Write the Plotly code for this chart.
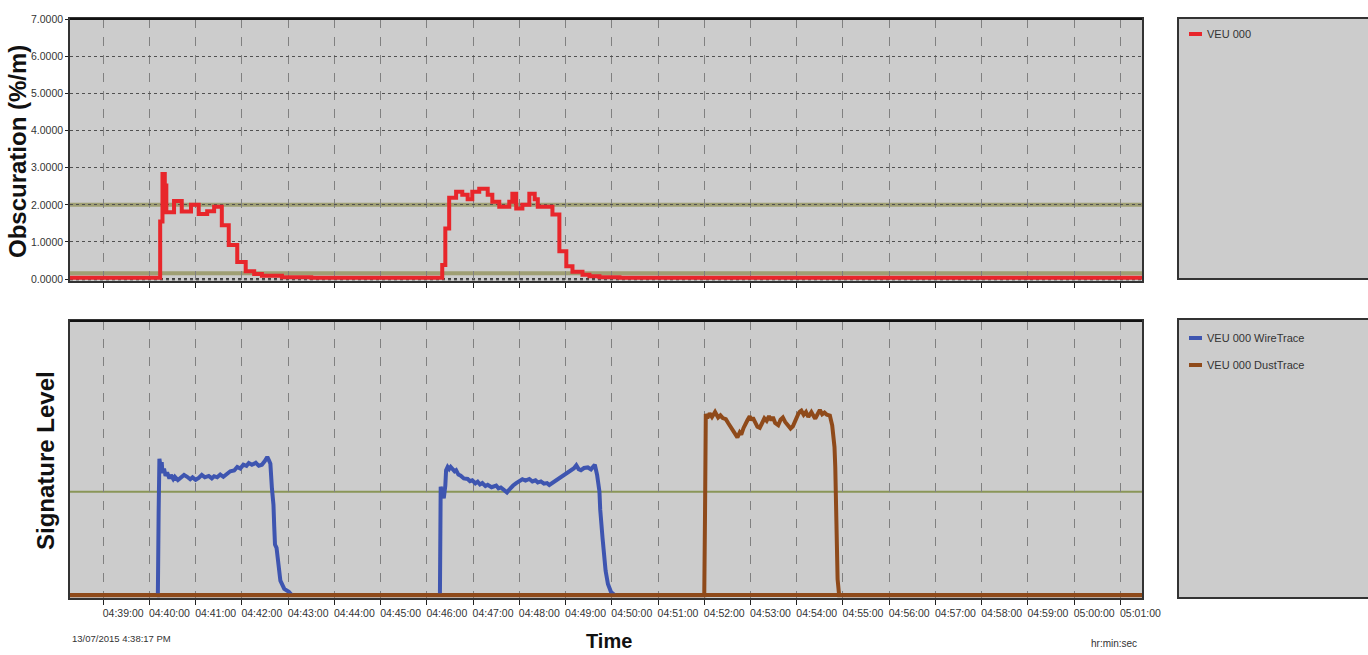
import plotly.graph_objects as go

DATE = "2015-07-13 "
X_START = "04:38:17"
X_END = "05:01:28"

# ---------------- data ----------------
obsc_name = "VEU 000"
obsc_time = ["04:38:17", "04:40:14", "04:40:17", "04:40:20", "04:40:22", "04:40:32", "04:40:42",
             "04:40:54", "04:41:04", "04:41:15", "04:41:24", "04:41:34", "04:41:43", "04:41:54",
             "04:42:05", "04:42:16", "04:42:26", "04:42:52", "04:43:30",
             "04:46:20", "04:46:24", "04:46:29", "04:46:38", "04:46:46", "04:46:53", "04:46:59",
             "04:47:08", "04:47:19", "04:47:25", "04:47:34", "04:47:47", "04:47:51", "04:47:56",
             "04:48:04", "04:48:13", "04:48:20", "04:48:24", "04:48:43", "04:48:52", "04:49:01",
             "04:49:09", "04:49:22", "04:49:31", "04:49:44", "04:50:10", "05:01:28"]
obsc_value = [0.04, 1.55, 2.83, 2.52, 1.80, 2.10, 1.82,
              2.00, 1.75, 1.83, 1.95, 1.45, 0.92, 0.46,
              0.21, 0.14, 0.09, 0.05, 0.04,
              0.38, 1.36, 2.19, 2.35, 2.27, 2.15, 2.35,
              2.43, 2.27, 2.08, 1.95, 2.08, 2.30, 1.90,
              2.00, 2.30, 2.15, 1.95, 1.74, 0.75, 0.35,
              0.20, 0.12, 0.08, 0.05, 0.04, 0.04]

wire_name = "VEU 000 WireTrace"
wire_time = ["04:40:10", "04:40:11", "04:40:12", "04:40:13", "04:40:15", "04:40:16", "04:40:17",
             "04:40:19", "04:40:21", "04:40:23", "04:40:26", "04:40:28", "04:40:31", "04:40:33",
             "04:40:37", "04:40:41", "04:40:45", "04:40:49", "04:40:53", "04:40:56", "04:41:00",
             "04:41:04", "04:41:08", "04:41:12", "04:41:17", "04:41:21", "04:41:24", "04:41:28",
             "04:41:32", "04:41:36", "04:41:41", "04:41:45", "04:41:50", "04:41:54", "04:41:58",
             "04:42:02", "04:42:06", "04:42:09", "04:42:13", "04:42:18", "04:42:22", "04:42:26",
             "04:42:30", "04:42:33", "04:42:35", "04:42:37", "04:42:39", "04:42:41", "04:42:42",
             "04:42:43", "04:42:45", "04:42:47", "04:42:50", "04:42:55", "04:43:01", "04:43:05",
             "04:44:30",
             "04:46:17", "04:46:18", "04:46:20", "04:46:22", "04:46:24", "04:46:25", "04:46:27",
             "04:46:29", "04:46:31", "04:46:33", "04:46:36", "04:46:38", "04:46:41", "04:46:44",
             "04:46:48", "04:46:53", "04:46:56", "04:46:59", "04:47:03", "04:47:06", "04:47:09",
             "04:47:12", "04:47:16", "04:47:19", "04:47:24", "04:47:30", "04:47:33", "04:47:36",
             "04:47:40", "04:47:44", "04:47:47", "04:47:49", "04:47:52", "04:47:56", "04:48:00",
             "04:48:04", "04:48:08", "04:48:13", "04:48:17", "04:48:21", "04:48:24", "04:48:28",
             "04:48:32", "04:48:36", "04:48:39", "04:48:43", "04:48:48", "04:48:52", "04:48:56",
             "04:49:00", "04:49:05", "04:49:08", "04:49:11", "04:49:14", "04:49:17", "04:49:20",
             "04:49:24", "04:49:29", "04:49:33", "04:49:38", "04:49:41", "04:49:44", "04:49:45",
             "04:49:48", "04:49:52", "04:49:55", "04:49:59", "04:50:04"]
wire_value = [0, 0, 30, 49.8, 46.0, 48.5, 44.5,
              46.2, 43.5, 44.8, 42.6, 43.8, 42.4, 43.2,
              42.0, 42.8, 43.9, 43.2, 42.3, 43.0, 42.1,
              42.8, 43.9, 43.0, 43.5, 42.6, 43.4, 43.0,
              44.0, 43.2, 44.3, 45.2, 45.5, 46.8, 46.2,
              47.6, 47.2, 48.2, 47.6, 48.3, 47.2, 47.6,
              49.0, 50.4, 49.3, 48.0, 39.0, 33.0, 25.0,
              18.5, 17.3, 11.3, 5.3, 2.3, 1.3, 0,
              None,
              0, 39.6, 37.5, 35.4, 40.0, 45.6, 46.8,
              46.0, 46.8, 46.0, 45.2, 45.6, 44.0, 43.6,
              42.6, 42.4, 41.6, 41.9, 40.8, 41.4, 40.4,
              40.9, 39.8, 40.3, 39.4, 40.0, 39.0, 39.3,
              38.2, 37.5, 38.5, 39.2, 40.0, 40.9, 41.6,
              42.3, 41.8, 42.4, 41.5, 41.9, 41.1, 41.5,
              40.7, 40.9, 40.2, 41.0, 41.6, 42.6, 43.4,
              44.2, 45.0, 45.6, 46.3, 47.4, 46.0, 45.6,
              46.4, 46.6, 45.9, 47.6, 43.8, 37.8, 31.2,
              20.9, 8.9, 4.1, 1.2, 0]

dust_name = "VEU 000 DustTrace"
dust_time = ["04:38:17", "04:52:00", "04:52:01", "04:52:02", "04:52:04", "04:52:07", "04:52:10",
             "04:52:14", "04:52:18", "04:52:21", "04:52:24", "04:52:28", "04:52:31", "04:52:34",
             "04:52:37", "04:52:40", "04:52:43", "04:52:46", "04:52:48", "04:52:51", "04:52:53",
             "04:52:56", "04:52:59", "04:53:01", "04:53:03", "04:53:06", "04:53:09", "04:53:12",
             "04:53:15", "04:53:18", "04:53:21", "04:53:24", "04:53:27", "04:53:29", "04:53:32",
             "04:53:36", "04:53:39", "04:53:42", "04:53:45", "04:53:49", "04:53:52", "04:53:55",
             "04:53:58", "04:54:02", "04:54:04", "04:54:06", "04:54:09", "04:54:12", "04:54:15",
             "04:54:19", "04:54:22", "04:54:24", "04:54:27", "04:54:30", "04:54:33", "04:54:36",
             "04:54:39", "04:54:43", "04:54:46", "04:54:47", "04:54:49", "04:54:50", "04:54:51",
             "04:54:52", "04:54:53", "04:54:55", "05:01:28"]
dust_value = [0, 0, 30, 66.1, 64.6, 66.3, 65.0,
              66.8, 64.8, 65.6, 64.6, 64.2, 62.8, 61.5,
              59.8, 58.6, 57.6, 59.4, 58.6, 61.0, 62.4,
              63.8, 65.3, 63.8, 64.8, 62.6, 61.4, 61.0,
              62.8, 64.5, 63.6, 65.3, 63.8, 65.0, 62.8,
              62.0, 64.0, 64.8, 63.2, 62.0, 60.8, 61.6,
              64.0, 66.1, 66.9, 67.3, 65.8, 66.8, 65.0,
              66.8, 65.3, 64.4, 66.0, 67.6, 66.0, 66.6,
              65.8, 65.5, 62.0, 59.4, 54.0, 46.8, 37.2,
              21.5, 5.9, 0, 0]

obsc_thresholds = [2.0, 0.16]
signature_threshold = 37.7
obsc_ticks = [0, 1, 2, 3, 4, 5, 6, 7]

assert len(obsc_time) == len(obsc_value)
assert len(wire_time) == len(wire_value)
assert len(dust_time) == len(dust_value)

# ---------------- styling ----------------
RED = "#e8262b"
BLUE = "#3e55b0"
BROWN = "#8f4a1a"
PANEL = "#cccccc"
SANS = "Liberation Sans, Arial, sans-serif"
TXT = "#333333"

W, H = 1368, 655
L, R, T, B = 70, 226, 19, 57
PW, PH = W - L - R, H - T - B


def px_x(px):
    return (px - L) / PW


def px_y(py):
    return (H - B - py) / PH


def ts(lst):
    return [DATE + t for t in lst]


fig = go.Figure()
fig.add_trace(go.Scatter(x=ts(obsc_time), y=obsc_value, name=obsc_name, mode="lines",
                         line=dict(color=RED, width=4, shape="hv"), xaxis="x", yaxis="y",
                         showlegend=False))
fig.add_trace(go.Scatter(x=ts(wire_time), y=wire_value, name=wire_name, mode="lines",
                         line=dict(color=BLUE, width=4), connectgaps=False,
                         xaxis="x2", yaxis="y2", showlegend=False))
fig.add_trace(go.Scatter(x=ts(dust_time), y=dust_value, name=dust_name, mode="lines",
                         line=dict(color=BROWN, width=4), xaxis="x2", yaxis="y2",
                         showlegend=False))

top_dom = [px_y(281), px_y(19)]
bot_dom = [0, px_y(321)]

xcommon = dict(type="date", range=[DATE + X_START, DATE + X_END], dtick=60000,
               tick0=DATE + "04:39:00", tickformat="%H:%M:%S", tickangle=0,
               showgrid=True, gridcolor="#808080", griddash="dash", gridwidth=1,
               showline=True, linecolor="#333333", linewidth=1.5, mirror=True,
               ticks="outside", ticklen=5, tickcolor="#222222",
               tickfont=dict(family=SANS, size=10.5, color=TXT))

fig.update_layout(
    width=W, height=H,
    margin=dict(l=L, r=R, t=T, b=B),
    paper_bgcolor="white", plot_bgcolor=PANEL,
    xaxis=dict(domain=[0, 1], anchor="y", showticklabels=False, zeroline=False, **xcommon),
    yaxis=dict(domain=top_dom, anchor="x", range=[-0.05, 7.0], tickvals=obsc_ticks,
               tickformat=".4f", showgrid=True, gridcolor="#505050", griddash="dot",
               showline=True, linecolor="#333333", linewidth=1.5, mirror=True,
               ticks="outside", ticklen=3, tickcolor="#222222", zeroline=False,
               tickfont=dict(family=SANS, size=10.5, color=TXT)),
    xaxis2=dict(domain=[0, 1], anchor="y2", showticklabels=True, ticklabelshift=20,
                zeroline=False, **xcommon),
    yaxis2=dict(domain=bot_dom, anchor="x2", range=[-1, 100], showticklabels=False,
                showgrid=False, showline=True, linecolor="#333333", linewidth=1.5,
                mirror=True, ticks="", zeroline=True, zerolinecolor=BROWN, zerolinewidth=4),
)

shapes = []
for th in obsc_thresholds:
    shapes.append(dict(type="line", xref="x domain", yref="y", x0=0, x1=1, y0=th, y1=th,
                       line=dict(color="rgba(150,150,100,0.85)", width=4), layer="below"))
shapes.append(dict(type="line", xref="x domain", yref="y", x0=0, x1=1, y0=0, y1=0,
                   line=dict(color="#111111", width=2, dash="dot"), layer="below"))
shapes.append(dict(type="line", xref="x2 domain", yref="y2", x0=0, x1=1,
                   y0=signature_threshold, y1=signature_threshold,
                   line=dict(color="#8a9658", width=2), layer="below"))
# top border emphasis
shapes.append(dict(type="line", xref="x domain", yref="y domain", x0=0, x1=1, y0=1, y1=1,
                   line=dict(color="#111111", width=2)))
shapes.append(dict(type="line", xref="x2 domain", yref="y2 domain", x0=0, x1=1, y0=1, y1=1,
                   line=dict(color="#111111", width=2)))
# legend panels
shapes.append(dict(type="rect", xref="paper", yref="paper", x0=px_x(1178), x1=px_x(1380),
                   y0=px_y(279), y1=px_y(18), fillcolor=PANEL,
                   line=dict(color="#333333", width=2), layer="below"))
shapes.append(dict(type="rect", xref="paper", yref="paper", x0=px_x(1178), x1=px_x(1380),
                   y0=px_y(598), y1=px_y(319), fillcolor=PANEL,
                   line=dict(color="#333333", width=2), layer="below"))

annotations = []
legend_items = [(obsc_name, RED, 34), (wire_name, BLUE, 338), (dust_name, BROWN, 365)]
for name, col, py in legend_items:
    shapes.append(dict(type="line", xref="paper", yref="paper", x0=px_x(1189), x1=px_x(1202),
                       y0=px_y(py), y1=px_y(py), line=dict(color=col, width=4)))
    annotations.append(dict(text=name, xref="paper", yref="paper", x=px_x(1205), y=px_y(py),
                            xanchor="left", yanchor="middle", showarrow=False,
                            font=dict(family=SANS, size=11, color=TXT)))

annotations += [
    dict(text="<b>Obscuration (%/m)</b>", xref="paper", yref="paper", x=px_x(17), y=px_y(152),
         textangle=-90, showarrow=False, xanchor="center", yanchor="middle",
         font=dict(family=SANS, size=24, color="#111111")),
    dict(text="<b>Signature Level</b>", xref="paper", yref="paper", x=px_x(45), y=px_y(461),
         textangle=-90, showarrow=False, xanchor="center", yanchor="middle",
         font=dict(family=SANS, size=24, color="#111111")),
    dict(text="<b>Time</b>", xref="paper", yref="paper", x=px_x(609), y=px_y(641),
         showarrow=False, xanchor="center", yanchor="middle",
         font=dict(family=SANS, size=20, color="#111111")),
    dict(text="13/07/2015 4:38:17 PM", xref="paper", yref="paper", x=px_x(70), y=px_y(638),
         showarrow=False, xanchor="left", yanchor="middle",
         font=dict(family=SANS, size=9.5, color=TXT)),
    dict(text="hr:min:sec", xref="paper", yref="paper", x=px_x(1139), y=px_y(643),
         showarrow=False, xanchor="right", yanchor="middle",
         font=dict(family=SANS, size=10, color=TXT)),
]

fig.update_layout(shapes=shapes, annotations=annotations)
fig.write_html("out.html", config={"displayModeBar": False},
               post_script="document.body.style.margin='0px';")
